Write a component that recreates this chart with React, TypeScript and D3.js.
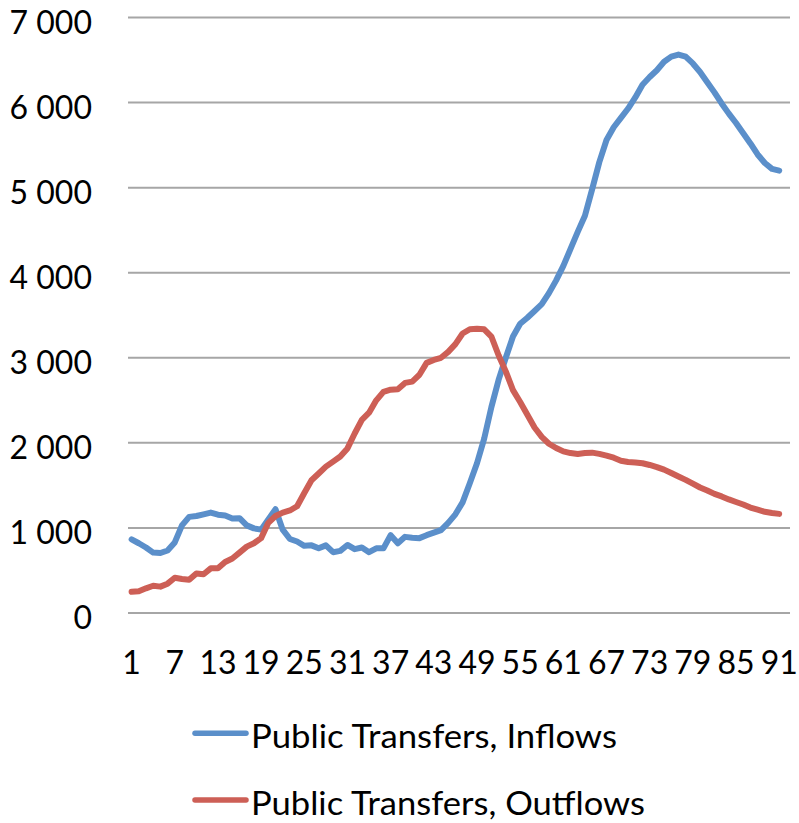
import React from "react";
import * as d3 from "d3";

const ages: number[] = d3.range(1, 92);
const axisCategories: number[] = d3.range(1, 93);
const xTickLabels: number[] = [1, 7, 13, 19, 25, 31, 37, 43, 49, 55, 61, 67, 73, 79, 85, 91];
const yTickValues: number[] = [0, 1000, 2000, 3000, 4000, 5000, 6000, 7000];

const inflows: number[] = [
  866, 820, 770, 710, 705, 735, 830, 1030, 1130, 1140,
  1160, 1180, 1155, 1145, 1110, 1115, 1030, 995, 980, 1100,
  1220, 980, 870, 840, 790, 795, 760, 795, 715, 730,
  800, 750, 770, 715, 760, 760, 915, 820, 895, 885,
  880, 915, 945, 975, 1060, 1160, 1300, 1525, 1760, 2050,
  2420, 2740, 3000, 3250, 3400, 3470, 3550, 3630, 3760, 3910,
  4080, 4280, 4480, 4670, 4980, 5300, 5560, 5710, 5820, 5930,
  6060, 6210, 6300, 6380, 6480, 6540, 6565, 6540, 6460, 6360,
  6240, 6120, 5990, 5870, 5760, 5640, 5520, 5390, 5290, 5220,
  5200,
];

const outflows: number[] = [
  250, 255, 290, 320, 310, 345, 415, 400, 390, 465,
  455, 525, 525, 600, 640, 710, 780, 820, 880, 1060,
  1140, 1180, 1205, 1255, 1410, 1560, 1640, 1720, 1780, 1840,
  1935, 2110, 2270, 2355, 2500, 2600, 2625, 2630, 2705, 2720,
  2800, 2940, 2975, 3000, 3070, 3160, 3285, 3335, 3340, 3335,
  3250, 3030, 2840, 2620, 2480, 2330, 2180, 2070, 1990, 1940,
  1900, 1880, 1870, 1880, 1885, 1870, 1850, 1825, 1790, 1775,
  1770, 1760, 1740, 1715, 1685, 1645, 1605, 1565, 1520, 1475,
  1440, 1400, 1370, 1335, 1305, 1275, 1240, 1215, 1190, 1175,
  1165,
];

const seriesNames: string[] = ["Public Transfers, Inflows", "Public Transfers, Outflows"];
const seriesColors: string[] = ["#5b8fca", "#cd5f56"];
const legendTextWidths: number[] = [366, 394];

const W = 799;
const H = 823;
const FONT = "Lato, 'Open Sans', sans-serif";

export default function App() {
  const x = d3.scaleBand<number>().domain(axisCategories).range([128, 790]).padding(0);
  const cx = (c: number) => (x(c) as number) + x.bandwidth() / 2;
  const y = d3.scaleLinear().domain([0, 7000]).range([613, 17.5]);
  const fmt = d3
    .formatLocale({ decimal: ",", thousands: " ", grouping: [3], currency: ["", ""] })
    .format(",");

  const line = d3
    .line<number>()
    .x((_, i) => cx(ages[i]))
    .y((v) => y(v))
    .curve(d3.curveLinear);

  const series = [inflows, outflows];

  return (
    <svg
      width={W}
      height={H}
      style={{ position: "absolute", left: 0, top: 0, display: "block", background: "#fff" }}
    >
      <rect x={0} y={0} width={W} height={H} fill="#fff" />
      {yTickValues.map((t) => (
        <g key={t}>
          <line x1={128} x2={790} y1={y(t)} y2={y(t)} stroke="#a6a6a6" strokeWidth={2} />
          <text
            x={92}
            y={y(t) + 16}
            textAnchor="end"
            fontFamily={FONT}
            fontSize={32}
            fill="#000"
          >
            {fmt(t)}
          </text>
        </g>
      ))}
      {xTickLabels.map((c) => (
        <text
          key={c}
          x={cx(c)}
          y={674}
          textAnchor="middle"
          fontFamily={FONT}
          fontSize={32}
          fill="#000"
        >
          {c}
        </text>
      ))}
      {series.map((s, i) => (
        <path
          key={i}
          d={line(s) || ""}
          fill="none"
          stroke={seriesColors[i]}
          strokeWidth={6}
          strokeLinejoin="round"
          strokeLinecap="round"
        />
      ))}
      {seriesNames.map((name, i) => {
        const ly = 733.3 + i * 66.7;
        return (
          <g key={name}>
            <line
              x1={195}
              x2={246}
              y1={ly}
              y2={ly}
              stroke={seriesColors[i]}
              strokeWidth={5.5}
              strokeLinecap="round"
            />
            <text
              x={251}
              y={ly + 15}
              fontFamily={FONT}
              fontSize={33}
              fill="#000"
              textLength={legendTextWidths[i]}
              lengthAdjust="spacingAndGlyphs"
            >
              {name}
            </text>
          </g>
        );
      })}
    </svg>
  );
}
